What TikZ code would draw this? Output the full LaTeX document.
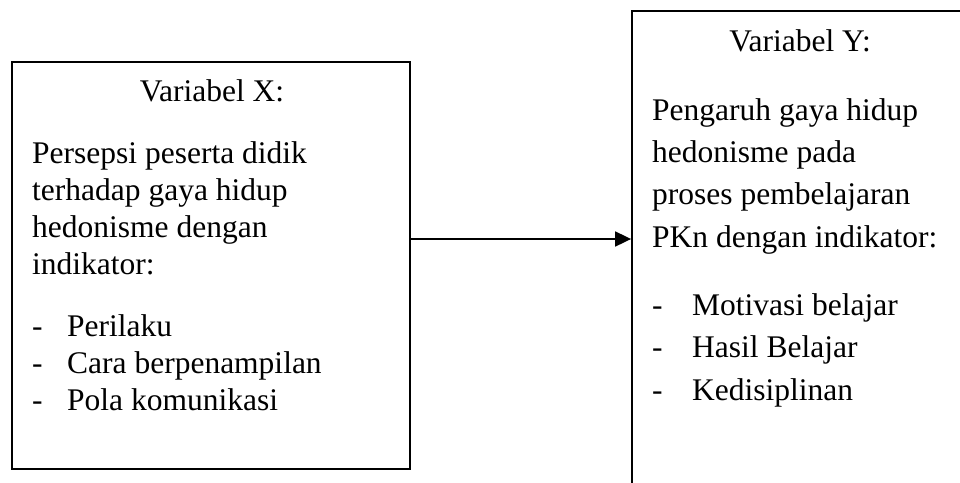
\documentclass[tikz,border=0pt]{standalone}
\usepackage{fontspec}
\setmainfont{Liberation Serif}
\usetikzlibrary{arrows.meta}
\tikzset{
  varbox/.style={draw, line width=1.8pt, inner sep=0pt},
  txtx/.style={inner sep=0pt, align=left, anchor=base west, font=\fontsize{31.5}{36.7}\selectfont},
  txty/.style={inner sep=0pt, align=left, anchor=base west, font=\fontsize{31.5}{42.3}\selectfont},
  ttl/.style={inner sep=0pt, anchor=base, font=\fontsize{31.5}{36}\selectfont}
}
\newcommand{\itemx}[1]{\makebox[35pt][l]{-}#1}
\newcommand{\itemy}[1]{\makebox[40pt][l]{-}#1}
\begin{document}
\begin{tikzpicture}[x=1pt,y=-1pt]
\clip (0,0) rectangle (960,482);
% boxes
\node[varbox, minimum width=398, minimum height=407] (vx) at (211,265.5) {};
\node[varbox, minimum width=350, minimum height=490] (vy) at (807,256) {};
% variabel X (anchored at the last line)
\node[ttl] (tx) at (212,101.7) {Variabel X:};
\node[txtx] (px) at (32,274) {Persepsi peserta didik\\terhadap gaya hidup\\hedonisme dengan\\indikator:};
\node[txtx] (lx) at (32,410) {\itemx{Perilaku}\\\itemx{Cara berpenampilan}\\\itemx{Pola komunikasi}};
% variabel Y
\node[ttl] (ty) at (800,51.7) {Variabel Y:};
\node[txty] (py) at (652,247) {Pengaruh gaya hidup\\hedonisme pada\\proses pembelajaran\\PKn dengan indikator:};
\node[txty] (ly) at (652,400) {\itemy{Motivasi belajar}\\\itemy{Hasil Belajar}\\\itemy{Kedisiplinan}};
% arrow
\coordinate (ax) at ([yshift=26.5pt]vx.east);
\draw[-{Triangle[length=16pt,width=15pt]}, line width=1.8pt] (ax) -- (ax -| vy.west);
\end{tikzpicture}
\end{document}
